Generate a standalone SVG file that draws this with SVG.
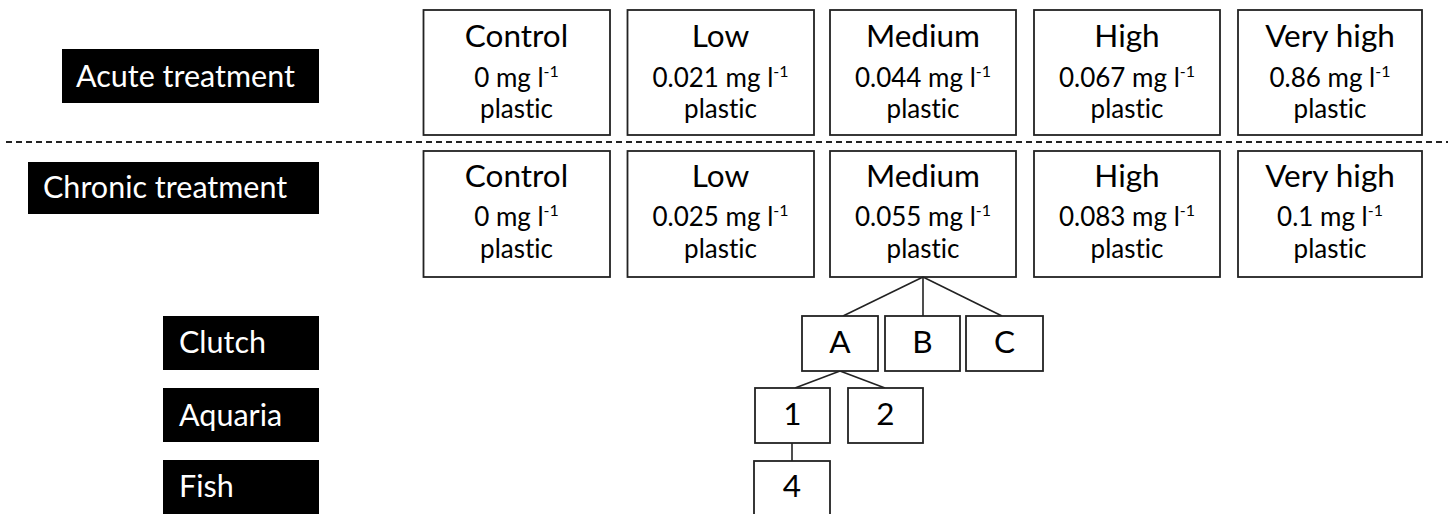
<svg xmlns="http://www.w3.org/2000/svg" width="1448" height="514" viewBox="0 0 1448 514">
<style>
  text { font-variant-ligatures: none; font-feature-settings: "liga" 0; }
  .lab { fill: #000; }
  .labt { fill: #fff; font-family: Lato, "Open Sans", sans-serif; font-size: 30.5px; }
  .box { fill: #fff; stroke: #222; stroke-width: 1.8; }
  .t1 { fill: #000; font-family: Lato, "Open Sans", sans-serif; font-size: 31.5px; text-anchor: middle; }
  .t2 { fill: #000; font-family: Lato, "Open Sans", sans-serif; font-size: 26px; text-anchor: middle; }
  .sup { font-size: 16px; }
  .con { stroke: #222; stroke-width: 1.6; fill: none; }
</style>
<rect width="1448" height="514" fill="#fff"/>

<line x1="6" y1="142" x2="1448" y2="142" stroke="#222" stroke-width="2" stroke-dasharray="6 4"/>

<g id="label-acute"><rect class="lab" x="62" y="49" width="257" height="54"/><text class="labt" x="76" y="87">Acute treatment</text></g>
<g id="label-chronic"><rect class="lab" x="28" y="162" width="291" height="52"/><text class="labt" x="43" y="198">Chronic treatment</text></g>
<g id="label-clutch"><rect class="lab" x="163" y="316" width="156" height="54"/><text class="labt" x="179" y="353">Clutch</text></g>
<g id="label-aquaria"><rect class="lab" x="163" y="388" width="156" height="54"/><text class="labt" x="179" y="426">Aquaria</text></g>
<g id="label-fish"><rect class="lab" x="163" y="460" width="156" height="60"/><text class="labt" x="179" y="497">Fish</text></g>

<g id="acute-control"><rect class="box" x="423.5" y="10" width="186.5" height="125"/><text class="t1" x="516.5" y="47">Control</text><text class="t2" x="516.5" y="87">0 mg l<tspan class="sup" dy="-10">-1</tspan></text><text class="t2" x="516.5" y="118">plastic</text></g>
<g id="acute-low"><rect class="box" x="627.5" y="10" width="186.5" height="125"/><text class="t1" x="720.5" y="47">Low</text><text class="t2" x="720.5" y="87">0.021 mg l<tspan class="sup" dy="-10">-1</tspan></text><text class="t2" x="720.5" y="118">plastic</text></g>
<g id="acute-medium"><rect class="box" x="830" y="10" width="186" height="125"/><text class="t1" x="923" y="47">Medium</text><text class="t2" x="923" y="87">0.044 mg l<tspan class="sup" dy="-10">-1</tspan></text><text class="t2" x="923" y="118">plastic</text></g>
<g id="acute-high"><rect class="box" x="1034" y="10" width="186" height="125"/><text class="t1" x="1127" y="47">High</text><text class="t2" x="1127" y="87">0.067 mg l<tspan class="sup" dy="-10">-1</tspan></text><text class="t2" x="1127" y="118">plastic</text></g>
<g id="acute-veryhigh"><rect class="box" x="1238" y="10" width="184" height="125"/><text class="t1" x="1330" y="47">Very high</text><text class="t2" x="1330" y="87">0.86 mg l<tspan class="sup" dy="-10">-1</tspan></text><text class="t2" x="1330" y="118">plastic</text></g>

<g id="chronic-control"><rect class="box" x="423.5" y="151" width="186.5" height="126"/><text class="t1" x="516.5" y="187">Control</text><text class="t2" x="516.5" y="226">0 mg l<tspan class="sup" dy="-10">-1</tspan></text><text class="t2" x="516.5" y="258">plastic</text></g>
<g id="chronic-low"><rect class="box" x="627.5" y="151" width="186.5" height="126"/><text class="t1" x="720.5" y="187">Low</text><text class="t2" x="720.5" y="226">0.025 mg l<tspan class="sup" dy="-10">-1</tspan></text><text class="t2" x="720.5" y="258">plastic</text></g>
<g id="chronic-medium"><rect class="box" x="830" y="151" width="186" height="126"/><text class="t1" x="923" y="187">Medium</text><text class="t2" x="923" y="226">0.055 mg l<tspan class="sup" dy="-10">-1</tspan></text><text class="t2" x="923" y="258">plastic</text></g>
<g id="chronic-high"><rect class="box" x="1034" y="151" width="186" height="126"/><text class="t1" x="1127" y="187">High</text><text class="t2" x="1127" y="226">0.083 mg l<tspan class="sup" dy="-10">-1</tspan></text><text class="t2" x="1127" y="258">plastic</text></g>
<g id="chronic-veryhigh"><rect class="box" x="1238" y="151" width="184" height="126"/><text class="t1" x="1330" y="187">Very high</text><text class="t2" x="1330" y="226">0.1 mg l<tspan class="sup" dy="-10">-1</tspan></text><text class="t2" x="1330" y="258">plastic</text></g>

<g id="connectors">
  <line class="con" x1="923" y1="277" x2="843" y2="316"/>
  <line class="con" x1="923" y1="277" x2="923" y2="316"/>
  <line class="con" x1="923" y1="277" x2="1002" y2="316"/>
  <line class="con" x1="840" y1="371" x2="795" y2="388"/>
  <line class="con" x1="840" y1="371" x2="885" y2="388"/>
  <line class="con" x1="792" y1="443" x2="792" y2="461"/>
</g>

<g id="clutch-a"><rect class="box" x="802" y="316" width="76" height="55"/><text class="t1" x="840" y="353">A</text></g>
<g id="clutch-b"><rect class="box" x="885" y="316" width="75" height="55"/><text class="t1" x="922.5" y="353">B</text></g>
<g id="clutch-c"><rect class="box" x="966" y="316" width="77" height="55"/><text class="t1" x="1004.5" y="353">C</text></g>
<g id="aquaria-1"><rect class="box" x="755" y="388" width="75" height="55"/><text class="t1" x="792.5" y="425">1</text></g>
<g id="aquaria-2"><rect class="box" x="848" y="388" width="75" height="55"/><text class="t1" x="885.5" y="425">2</text></g>
<g id="fish-4"><rect class="box" x="754" y="461" width="76" height="60"/><text class="t1" x="792" y="497">4</text></g>
</svg>
